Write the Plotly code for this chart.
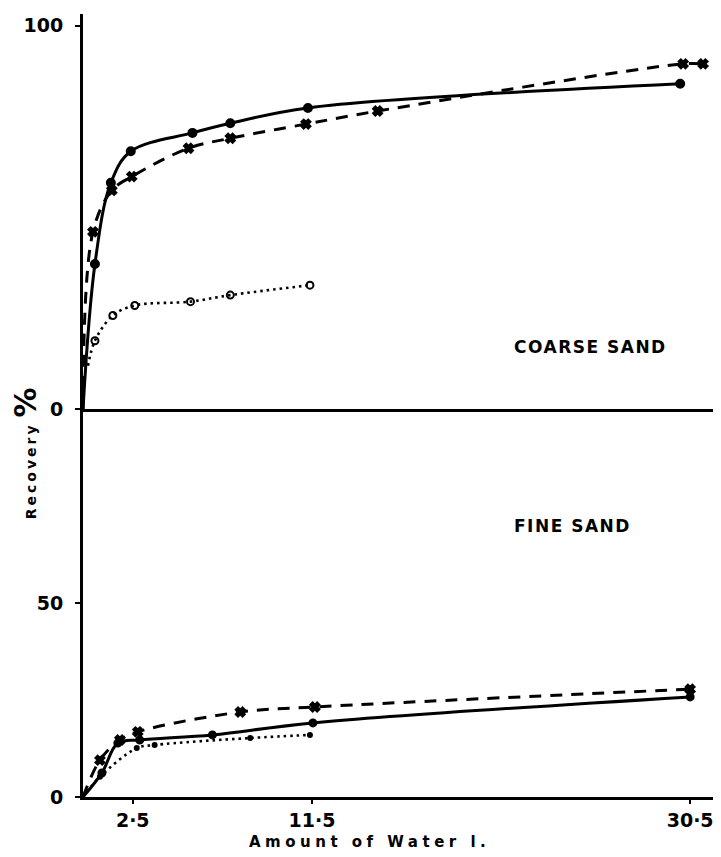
import plotly.graph_objects as go

# ---------------- data (Recovery %, amount of water in litres) ----------------
coarse_solid_x = [0.6, 1.4, 2.4, 5.5, 7.4, 11.3, 30.0]
coarse_solid_y = [37.8, 59.0, 67.2, 72.0, 74.5, 78.5, 84.8]

coarse_dash_x = [0.5, 1.45, 2.45, 5.3, 7.4, 11.2, 14.8, 30.15, 31.15]
coarse_dash_y = [46.2, 57.0, 60.6, 68.0, 70.6, 74.3, 77.7, 90.0, 90.0]

coarse_dot_x = [0.6, 1.5, 2.6, 5.4, 7.4, 11.4]
coarse_dot_y = [17.8, 24.4, 27.0, 28.0, 29.7, 32.3]

fine_solid_x = [0.95, 1.75, 2.85, 6.5, 11.55, 30.5]
fine_solid_y = [6.2, 13.9, 14.7, 16.0, 19.1, 25.8]

fine_dash_x = [0.85, 1.85, 2.75, 7.9, 11.65, 30.5]
fine_dash_y = [9.5, 14.7, 16.8, 21.9, 23.2, 27.8]

fine_dot_x = [0.85, 2.7, 3.6, 8.4, 11.4]
fine_dot_y = [5.2, 12.6, 13.4, 15.2, 16.0]

# curve origins (lines start here, no marker)
coarse_start = {"solid": (0.0, 0.0), "dash": (0.0, 0.0), "dot": (0.25, 11.3)}
fine_start = {"solid": (0.0, 0.0), "dash": (0.0, 0.0), "dot": (0.0, 0.0)}

x_tick_vals = [2.5, 11.5, 30.5]
x_tick_text = ["2·5", "11·5", "30·5"]

FONT = "DejaVu Sans"
BLACK = "black"

fig = go.Figure()

def add_series(x, y, start, dash, symbol, msize, yaxis, xaxis):
    lx = [start[0]] + list(x)
    ly = [start[1]] + list(y)
    fig.add_trace(go.Scatter(
        x=lx, y=ly, mode="lines", xaxis=xaxis, yaxis=yaxis,
        line=dict(color=BLACK, width=3 if dash != "dot" else 2.6,
                  dash=dash if dash != "dot" else "2.5px,4px",
                  shape="spline", smoothing=1.0),
        showlegend=False, hoverinfo="skip"))
    fig.add_trace(go.Scatter(
        x=x, y=y, mode="markers", xaxis=xaxis, yaxis=yaxis,
        marker=dict(symbol=symbol, size=msize, color=BLACK,
                    line=dict(color=BLACK, width=2)),
        showlegend=False))

# top panel: coarse sand
add_series(coarse_solid_x, coarse_solid_y, coarse_start["solid"], "solid", "circle", 8, "y2", "x2")
add_series(coarse_dash_x, coarse_dash_y, coarse_start["dash"], "12px,9px", "x", 8, "y2", "x2")
add_series(coarse_dot_x, coarse_dot_y, coarse_start["dot"], "dot", "circle-open", 7, "y2", "x2")

# bottom panel: fine sand
add_series(fine_solid_x, fine_solid_y, fine_start["solid"], "solid", "circle", 7, "y", "x")
add_series(fine_dash_x, fine_dash_y, fine_start["dash"], "12px,9px", "x", 8, "y", "x")
add_series(fine_dot_x, fine_dot_y, fine_start["dot"], "dot", "circle", 4, "y", "x")

XR = [0, 31.9]
split = 0.4955

axis_common = dict(showgrid=False, zeroline=False, linecolor=BLACK, linewidth=3,
                   showline=True, ticks="outside", tickcolor=BLACK, tickwidth=2,
                   tickfont=dict(family=FONT, size=19, color=BLACK, weight="bold"))

# page body has an 8px default margin: size the figure so the plot area lands at
# x 83..718, y 14..797 of the 721x857 window
fig.update_layout(
    width=713, height=849,
    margin=dict(l=75, r=3, t=6, b=60),
    paper_bgcolor="white", plot_bgcolor="white",
    xaxis=dict(axis_common, range=XR, domain=[0, 1], anchor="y",
               tickvals=x_tick_vals, ticktext=x_tick_text, ticklen=4,
               ticklabelstandoff=0),
    yaxis=dict(axis_common, range=[0, 100], domain=[0, split], anchor="x",
               tickvals=[0, 50], ticktext=["0", "50"], ticklen=5,
               ticklabelstandoff=8),
    xaxis2=dict(axis_common, range=XR, domain=[0, 1], anchor="y2",
                matches="x", showticklabels=False, ticks=""),
    yaxis2=dict(axis_common, range=[0, 103], domain=[split, 1], anchor="x2",
                tickvals=[0, 100], ticktext=["0", "100"], ticklen=5,
                ticklabelstandoff=8),
)

fig.add_annotation(x=25.5, y=16.3, xref="x2", yref="y2",
                   text="<span style='letter-spacing:1.5px'>COARSE SAND</span>",
                   showarrow=False, font=dict(family=FONT, size=17, color=BLACK, weight="bold"))
fig.add_annotation(x=24.6, y=69.8, xref="x", yref="y",
                   text="<span style='letter-spacing:1.5px'>FINE SAND</span>",
                   showarrow=False, font=dict(family=FONT, size=17, color=BLACK, weight="bold"))
fig.add_annotation(x=14.4, y=-0.0575, xref="x", yref="paper",
                   text="<span style='letter-spacing:4.5px'>Amount of Water l.</span>",
                   showarrow=False, yanchor="middle",
                   font=dict(family=FONT, size=15, color=BLACK, weight="bold"))
fig.add_annotation(x=-0.0913, y=0.439, xref="paper", yref="paper",
                   text="<span style='letter-spacing:3px'>Recovery</span> <span style='font-size:30px'>%</span>",
                   textangle=-90, showarrow=False, xanchor="center", yanchor="middle",
                   font=dict(family=FONT, size=14, color=BLACK, weight="bold"))

fig.write_html("out.html")
